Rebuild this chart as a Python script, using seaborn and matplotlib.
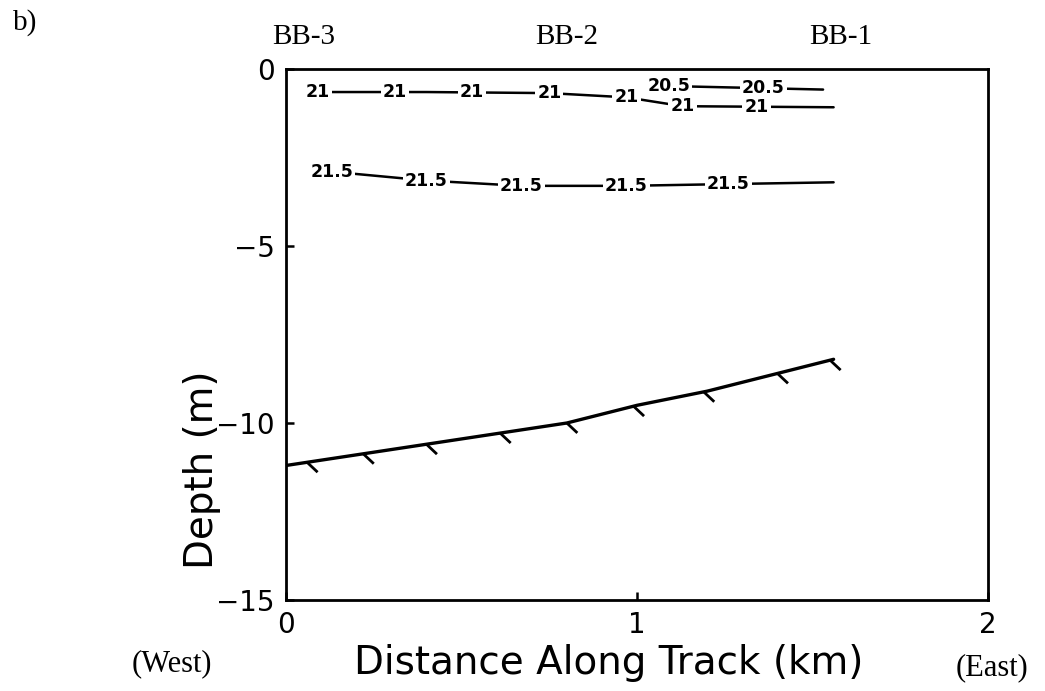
import numpy as np
import pandas as pd
import matplotlib
matplotlib.use("Agg")
import matplotlib.pyplot as plt
import seaborn as sns

# ---- data ----
bottom_x = [0.0, 0.2, 0.4, 0.6, 0.8, 1.0, 1.2, 1.4, 1.56]
bottom_y = [-11.2, -10.9, -10.6, -10.3, -10.0, -9.5, -9.1, -8.6, -8.2]
hatch_x = [0.06, 0.22, 0.40, 0.61, 0.80, 0.99, 1.19, 1.40, 1.55]

c21_x = [0.09, 0.40, 0.75, 0.97, 1.13, 1.56]
c21_y = [-0.65, -0.65, -0.68, -0.80, -1.05, -1.08]
c21_labels_x = [0.09, 0.31, 0.53, 0.75, 0.97, 1.13, 1.34]

c205_x = [1.09, 1.53]
c205_y = [-0.48, -0.58]
c205_labels_x = [1.09, 1.36]

c215_x = [0.13, 0.40, 0.67, 0.97, 1.26, 1.56]
c215_y = [-2.9, -3.15, -3.3, -3.3, -3.25, -3.2]
c215_labels_x = [0.13, 0.40, 0.67, 0.97, 1.26]

stations = ["BB-3", "BB-2", "BB-1"]
station_x = [0.05, 0.8, 1.58]

x_ticks = [0, 1, 2]
y_ticks = [0, -5, -10, -15]
y_tick_labels = ["0", "\u22125", "\u221210", "\u221215"]

sns.set_style("white")
plt.rcParams['font.family'] = ['DejaVu Sans']
plt.rcParams['text.color'] = 'black'

fig = plt.figure(figsize=(10.45, 6.91), dpi=100)
ax = fig.add_axes([0.2737, 0.1317, 0.6718, 0.7684])

# bottom line
df_b = pd.DataFrame({"x": bottom_x, "y": bottom_y})
sns.lineplot(data=df_b, x="x", y="y", ax=ax, color="black", lw=2.4, sort=False)
# hatches
dx, dy = 0.03, -0.28
for hx in hatch_x:
    hy = np.interp(hx, bottom_x, bottom_y)
    ax.plot([hx, hx + dx], [hy, hy + dy], color="black", lw=2.0, solid_capstyle="butt")

def contour(xs, ys, lab_x, text):
    d = pd.DataFrame({"x": xs, "y": ys})
    sns.lineplot(data=d, x="x", y="y", ax=ax, color="black", lw=1.8, sort=False)
    for lx in lab_x:
        ly = np.interp(lx, xs, ys)
        ax.text(lx, ly, text, ha="center", va="center", fontsize=12.5, fontweight="bold",
                color="black",
                bbox=dict(boxstyle="square,pad=0.12", fc="white", ec="none"), zorder=5)

contour(c21_x, c21_y, c21_labels_x, "21")
contour(c205_x, c205_y, c205_labels_x, "20.5")
contour(c215_x, c215_y, c215_labels_x, "21.5")

ax.set_xlim(0, 2)
ax.set_ylim(-15, 0)
ax.set_xticks(x_ticks)
ax.set_yticks(y_ticks)
ax.set_xticklabels([str(v) for v in x_ticks])
ax.set_yticklabels(y_tick_labels)
ax.tick_params(direction="in", length=6, width=1.8, labelsize=20, pad=8, colors="black",
               labelcolor="black", bottom=True, left=True)
for s in ax.spines.values():
    s.set_visible(True)
    s.set_color("black")
    s.set_linewidth(2)

ax.set_xlabel("")
ax.set_ylabel("")
fig.text(0.582, 0.040, "Distance Along Track (km)", ha="center", va="center", fontsize=28,
         color="black")
fig.text(0.193, 0.32, "Depth (m)", ha="center", va="center", fontsize=28, rotation=90,
         color="black")
fig.text(0.164, 0.040, "(West)", ha="center", va="center", fontsize=22,
         family="Liberation Serif", color="black")
fig.text(0.949, 0.033, "(East)", ha="center", va="center", fontsize=22,
         family="Liberation Serif", color="black")
fig.text(0.024, 0.968, "b)", ha="center", va="center", fontsize=21,
         family="Liberation Serif", color="black")

for name, sx in zip(stations, station_x):
    ax.text(sx, 1.035, name, transform=ax.get_xaxis_transform(), ha="center", va="bottom",
            fontsize=21, family="Liberation Serif", color="black")

fig.savefig("out.png", dpi=100)
